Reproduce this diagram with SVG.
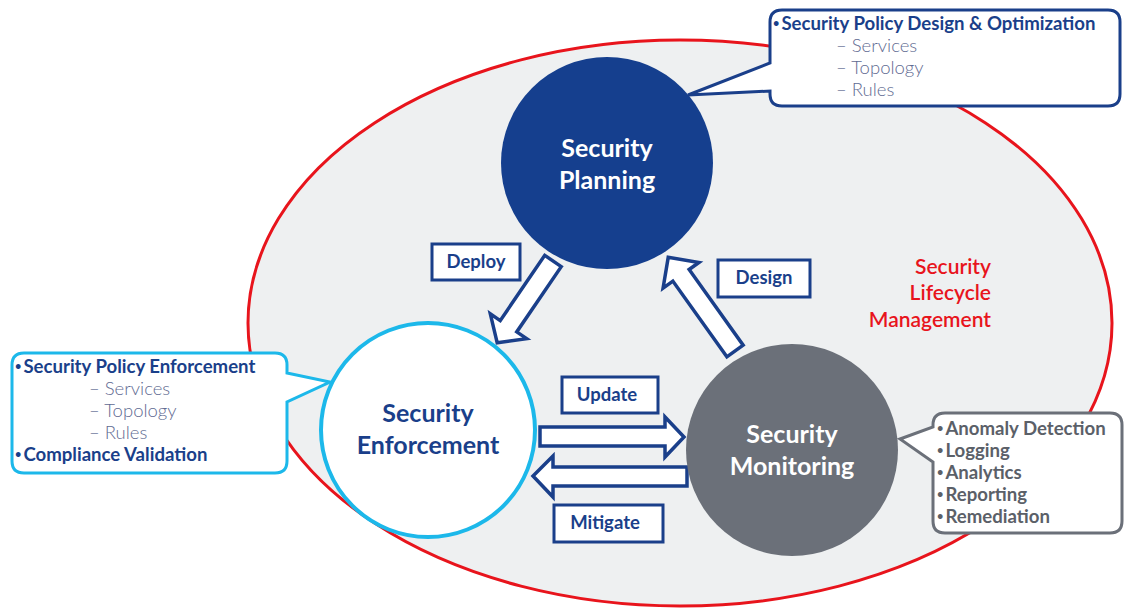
<svg xmlns="http://www.w3.org/2000/svg" width="1124" height="610" viewBox="0 0 1124 610">
<style>
.lbl{fill:#fff;stroke:#1a3f8a;stroke-width:3}
.lt{font-family:Lato,"Open Sans",sans-serif;font-weight:bold;font-size:18.5px;fill:#1a3f8a;text-anchor:middle}
.arr{fill:#fff;stroke:#1a3f8a;stroke-width:3.5;stroke-linejoin:miter}
.ct{font-family:Lato,"Open Sans",sans-serif;font-weight:bold;font-size:25px;text-anchor:middle}
.cb{font-family:Lato,"Open Sans",sans-serif;font-weight:bold;font-size:18.6px}
.sub{font-family:Lato,"Open Sans",sans-serif;font-size:18.5px;fill:#5f6b92;font-weight:300}
.bu{font-size:11px}
</style>
<rect width="1124" height="610" fill="#fff"/>
<g id="lifecycle">
<ellipse cx="680" cy="323" rx="432" ry="283" fill="#eef0f1" stroke="#e8141c" stroke-width="3"/>
<text font-family="Lato,'Open Sans',sans-serif" font-size="21" fill="#e8141c" text-anchor="end" font-weight="600"><tspan x="991" y="274">Security</tspan><tspan x="991" y="300">Lifecycle</tspan><tspan x="991" y="327">Management</tspan></text>
</g>
<g id="connectors">
<polygon class="arr" transform="translate(553,261) rotate(124.3)" points="0,-10 79,-10 79,-22 99,0 79,22 79,10 0,10"/>
<polygon class="arr" transform="translate(735,351) rotate(-125.5)" points="0,-10 93,-10 93,-22 115,0 93,22 93,10 0,10"/>
<polygon class="arr" points="540,427 665,427 665,417 684,437 665,457 665,446 540,446"/>
<polygon class="arr" points="687,467 553,467 553,456 533,476 553,497 553,486 687,486"/>
</g>
<g id="deploy"><rect class="lbl" x="432" y="244" width="88" height="36"/><text class="lt" x="476" y="268">Deploy</text></g>
<g id="design"><rect class="lbl" x="718" y="260" width="92" height="37"/><text class="lt" x="764" y="284">Design</text></g>
<g id="update"><rect class="lbl" x="562" y="377" width="96" height="36"/><text class="lt" x="607" y="401">Update</text></g>
<g id="mitigate"><rect class="lbl" x="554" y="505" width="109" height="37"/><text class="lt" x="605" y="529">Mitigate</text></g>
<g id="planning">
<circle cx="607" cy="163" r="106" fill="#153f8e"/>
<text class="ct" fill="#fff"><tspan x="607" y="157">Security</tspan><tspan x="607" y="189">Planning</tspan></text>
</g>
<g id="enforcement">
<circle cx="428" cy="430" r="107" fill="#fff" stroke="#1cb8ea" stroke-width="4"/>
<text class="ct" fill="#1a3f8a"><tspan x="428" y="422">Security</tspan><tspan x="428" y="454">Enforcement</tspan></text>
</g>
<g id="monitoring">
<circle cx="792" cy="450" r="106" fill="#6b7079"/>
<text class="ct" fill="#fff"><tspan x="792" y="443">Security</tspan><tspan x="792" y="475">Monitoring</tspan></text>
</g>
<g id="planning-callout">
<path d="M782,10 H1108 Q1120,10 1120,22 V94 Q1120,106 1108,106 H782 Q770,106 770,94 V91 L688,95 L770,63 V22 Q770,10 782,10 Z" fill="#fff" stroke="#1a3f8a" stroke-width="3"/>
<text class="cb" fill="#1a3f8a" x="773" y="30"><tspan class="bu" dy="-3">•</tspan><tspan dx="2" dy="3">Security Policy Design &amp; Optimization</tspan></text>
<text class="sub"><tspan x="836" y="52">–  Services</tspan><tspan x="836" y="74">–  Topology</tspan><tspan x="836" y="96">–  Rules</tspan></text>
</g>
<g id="enforcement-callout">
<path d="M24,353 H275 Q287,353 287,365 V373 L330,382 L287,402 V461 Q287,473 275,473 H24 Q12,473 12,461 V365 Q12,353 24,353 Z" fill="#fff" stroke="#1cb8ea" stroke-width="3"/>
<text class="cb" fill="#1a3f8a" x="15" y="373"><tspan class="bu" dy="-3">•</tspan><tspan dx="2" dy="3">Security Policy Enforcement</tspan></text>
<text class="sub"><tspan x="89" y="395">–  Services</tspan><tspan x="89" y="417">–  Topology</tspan><tspan x="89" y="439">–  Rules</tspan></text>
<text class="cb" fill="#1a3f8a" x="15" y="461"><tspan class="bu" dy="-3">•</tspan><tspan dx="2" dy="3">Compliance Validation</tspan></text>
</g>
<g id="monitoring-callout">
<path d="M945,413 H1110 Q1122,413 1122,425 V521 Q1122,533 1110,533 H945 Q933,533 933,521 V462 L900,439 L933,427 V425 Q933,413 945,413 Z" fill="#fff" stroke="#6b7079" stroke-width="3"/>
<g class="cb" fill="#5b6068">
<text x="937" y="435"><tspan class="bu" dy="-3">•</tspan><tspan dx="2" dy="3">Anomaly Detection</tspan></text>
<text x="937" y="457"><tspan class="bu" dy="-3">•</tspan><tspan dx="2" dy="3">Logging</tspan></text>
<text x="937" y="479"><tspan class="bu" dy="-3">•</tspan><tspan dx="2" dy="3">Analytics</tspan></text>
<text x="937" y="501"><tspan class="bu" dy="-3">•</tspan><tspan dx="2" dy="3">Reporting</tspan></text>
<text x="937" y="523"><tspan class="bu" dy="-3">•</tspan><tspan dx="2" dy="3">Remediation</tspan></text>
</g>
</g>
</svg>
